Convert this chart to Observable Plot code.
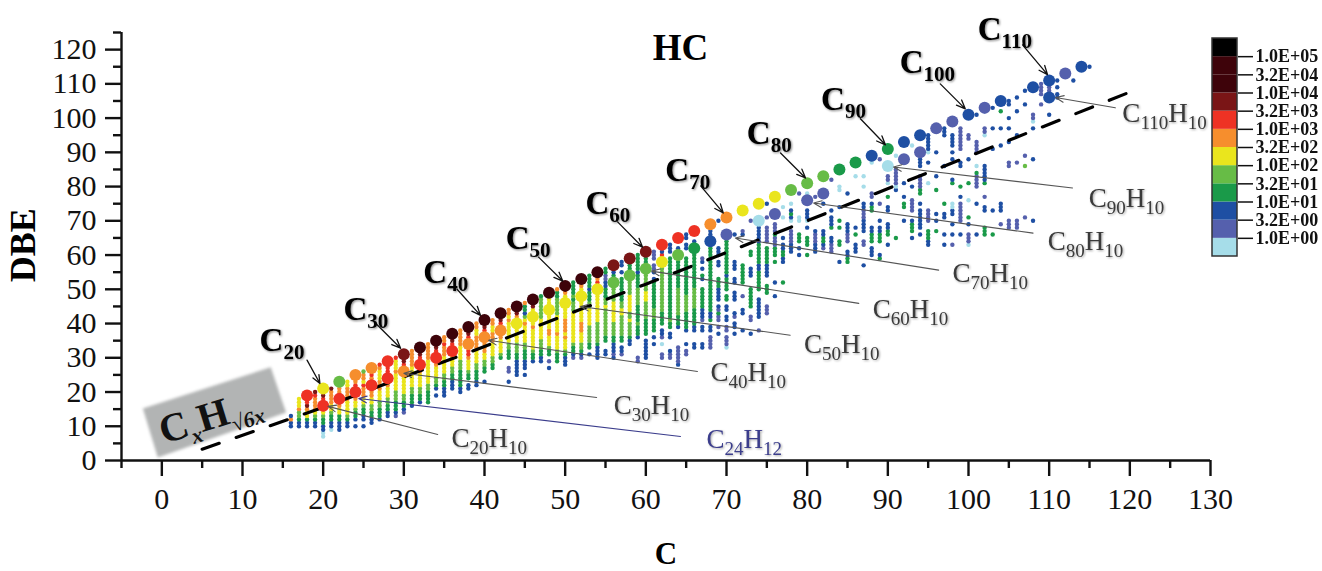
<!DOCTYPE html>
<html><head><meta charset="utf-8">
<style>html,body{margin:0;padding:0;background:#fff}#wrap{position:relative;width:1322px;height:571px;overflow:hidden}</style>
<script src="https://cdn.jsdelivr.net/npm/d3@7"></script>
<script src="https://cdn.jsdelivr.net/npm/@observablehq/plot@0.6"></script>
</head><body><div id="wrap"></div>
<script>
// abundance classes, low to high
const classKeys = ["a","p","b","g","l","y","o","r","d","m","n","k"];
const classColors = ["#a6dde9","#5560ad","#1e4fa3","#1a9a49","#67bc46","#eae51d","#f68e2d","#ee3224","#7a1516","#3e030a","#3e030a","#000000"];
const legendLabels = ["1.0E+00","3.2E+00","1.0E+01","3.2E+01","1.0E+02","3.2E+02","1.0E+03","3.2E+03","1.0E+04","3.2E+04","1.0E+05"];

// small dots: [C, lowest DBE, run-length classes going up; "." is a gap]
const columnDots = [
[16,10,"2b1o1b"],[17,10,"2b1g2l1o3y"],[18,10,"2b1g2y1o1d3r"],[19,10,"2b1g1l1y4o1r1d"],[20,7,"2a2b2g1l1y1o3r1d1r"],
[21,9,"1a2b2g1l2y4o1d"],[22,9,"3b2g2y1o3r2o1y"],[23,10,"2b1g1l4y4o2y"],[24,10,"1b1.1b2g1l2y1o4r2o"],[25,10,"1b1.2b2g1l2y3o1r1y2o1l"],
[26,11,"2b2g2l2y2o3r1o2r"],[27,12,"1b3g2l3y3o3y1o1r"],[28,13,"2b2g2l3y2o5r"],[29,13,"1p1b3g3l5y1o3y1r"],[30,14,"1p1b2g2l5y2o2r2d"],
[31,16,"1b3g2l6y5o"],[32,17,"1b2g2l4y2o3r2d"],[33,17,"4g2l7y5o"],[34,19,"1b1.1b1g2l3y2o3r2d"],[35,19,"3b2g2l5y3o1r2o"],
[36,21,"3b2g2l3y1o3r2d"],[37,20,"2b5g3l4y5o"],[38,21,"2b1.2g1l3y1o2r2o2r2d"],[39,22,"2b3g2l4y4o2y2o"],[40,23,"1b2.2g2l2y5o2r2d"],
[41,27,"2g2l4y3o2y2o"],[42,30,"1g1l4y4o1r2d"],[43,23,"1b2.2p2.3g2l6y1o1y2o"],[44,25,"5b2g3l4y1o2y1o2d"],[45,25,"1b1.3b3g2l5y1o1y1l1b2g1o"],
[46,29,"1b2g1l6y1o5y2d"],[47,29,"2b2g3l6y6l1g"],[48,27,"1b1.1p1.2g1l3y2o6y1r3y"],[49,29,"3g1l4y1o5y5l2g1o"],[50,28,"3b1g1l3y1o1y4o7y1o1r"],
[51,30,"1p1b2g1l9y3l1g1l4g"],[52,30,"1p1b1g2l3y3o10y1o"],[53,31,"1b1.2g5l5y2l3g1b4g"],[54,30,"4b1g6l10y1o1r1o1d"],[55,31,"2b2.2g8l1y2l3g2b2p2g"],
[56,30,"1b1p3b2g4l6y7l1g2b"],[57,31,"1p2b1.2g6l2y2l7g1.1b1.2b"],[58,34,"2b1g4l1y2l5y7l2g1b"],[59,29,"2p5.1b3g1l5g5l4g1b5g"],[60,30,"6b1.5g5l3y8l3g"],
[61,34,"1b1.1b1.4g3l8g1b1.1b2p1.3p"],[62,30,"2p2.1a1.1p2b1.4g13l1g1y1.1r2b"],[63,30,"2p1b3.2b1.2g1l18g1.3b"],[64,28,"1b5p5.1b3g8l8g2l1.1b"],[65,31,"2p1.1b3.1b5g5l11g2.2b1.2b"],
[66,33,"2b3.2b5g6l11g3b"],[67,33,"2b3.2b1.1p3b6g2.1b1g1.1b1.1b1p"],[68,33,"4p1.2b1.1g2b19g2b1.2b"],[69,37,"1b1.1p1.2p1g1p1b1.4b3g3.2b1.3b7.1b"],[70,33,"1a3p1.2p1.2b1.2b1.2g1.4g1b11g"],
[71,37,"1b1.2b1.1p1b3.3b2.2b2.3b7.1b"],[72,38,"1b4.2b3.1p3.6g8.1b1p"],[73,37,"1b3.2p2.6g3.3b3.2g8.1p"],[74,38,"1p3.6b2.6g2b6g5b"],[75,43,"3p3.3g2.4b5g1.5p2.1p3.1b"],
[76,48,"1b3.1b5.1g1.3g3p1g3p"],[77,52,"1g5.2b2g2b1.1b5.1a2.1a"],[78,61,"3b4p2.1a1b1g1b1.1a"],[79,60,"1b1.1b1.3g3.2a6.1p"],[80,60,"1g2.3g2.1b1.1a3b4.1a"],
[81,61,"3b3p1b9.1p"],[82,62,"1p1b2g2b7.1b"],[83,61,"3p2b2.1g3b1.1b8.1p"],[84,58,"1b4.2g3.1g1.1g3.1b4.2a"],[85,58,"2g2b2.3p3b8.1b"],
[86,61,"3b2.1g1.1b14.1a"],[87,57,"1b5.2p2.4b3p2b4.1a2.1a"],[88,60,"3b1.3g2b4.2g1b1.2p8.1a"],[89,59,"1g1b3.3g2b1.1b4.1p12.1p"],[90,63,"1b2.2g2b3.2b2.1g3.1a2p"],
[91,65,"1g13.1b1a5p3.1a"],[92,70,"1b3.2g1.1b3.1b"],[93,65,"1b1.3g1b2.4p3.1b11.1a"],[94,66,"1b1.6b1.1b2.2g4p2.3b"],[95,63,"2b3g2.4p7.1a5.1b2.1a5b"],
[96,67,"1g2.1b1.1b6.1g3.1b6.1b"],[97,63,"1b2.1b4.2b2.1g10.1b8.3b"],[98,63,"1p2.1b2.1b2.2b2a5.1g1b5.1b1.1b1.4b"],[99,66,"1b3.6p1.1b2.1g5.2b3.7p"],[100,63,"1a3p2.1b1.1g4.1a4.1g6.1b5.2p"],
[101,66,"1b8.1b4.4p1g1.1a3.4p7.1b"],[102,66,"3g4.2b2.1p3.1g5b8.1a2p4.1b"],[103,66,"1g6.1b17.1b5.1b5.1b"],[104,69,"1p3.3b16.1b4.1b4.1g1.1b"],[105,68,"3p15.2p5.1b3.1b2.1b3.2b"],
[106,68,"3p16.1p7.1b6.1b3.1b"],[107,71,"1p14.1l2.1p14.1b3.1b"],[108,70,"1b17.1b8.1b1.1a2p"],[109,104,"1p2.4p"],[110,101,"1b5.4p"],
[111,106,"2b1.1b1.1b"],[113,111,"1b"],[115,115,"1b"]
];
// big dots: [C, DBE, class]
const topSeries = [[18,19,"r"],[20,21,"y"],[22,23,"l"],[24,25,"o"],[26,27,"o"],[28,29,"r"],[30,31,"d"],[32,33,"m"],[34,35,"m"],[36,37,"m"],[38,39,"m"],[40,41,"m"],[42,43,"m"],[44,45,"m"],[46,47,"m"],[48,49,"m"],[50,51,"m"],[52,53,"m"],[54,55,"m"],[56,57,"d"],[58,59,"d"],[60,61,"d"],[62,63,"r"],[64,65,"r"],[66,67,"r"],[68,69,"o"],[70,71,"o"],[72,73,"y"],[74,75,"y"],[76,77,"y"],[78,79,"l"],[80,81,"l"],[82,83,"l"],[84,85,"g"],[86,87,"g"],[88,89,"b"],[90,91,"g"],[92,93,"b"],[94,95,"b"],[96,97,"p"],[98,99,"p"],[100,101,"b"],[102,103,"p"],[104,105,"b"],[108,109,"b"],[110,111,"b"],[112,113,"p"],[114,115,"b"]];
const lowSeries = [[20,16,"r"],[22,18,"r"],[24,20,"r"],[26,22,"r"],[28,24,"r"],[30,26,"o"],[32,28,"r"],[34,30,"r"],[36,32,"r"],[38,34,"o"],[40,36,"o"],[42,38,"o"],[44,40,"y"],[46,42,"y"],[48,44,"y"],[50,46,"y"],[52,48,"y"],[54,50,"y"],[56,52,"l"],[58,54,"l"],[60,56,"l"],[62,58,"y"],[64,60,"l"],[66,62,"g"],[68,64,"b"],[70,66,"p"],[74,70,"a"],[76,72,"p"],[80,76,"p"],[82,78,"p"],[90,86,"a"],[92,88,"p"],[94,90,"p"],[110,106,"b"]];

// dashed trend C_xH_sqrt(6x), read as points
const trendC = [5,20,40,60,80,100,120];
const trendDBE = [3.3,15.5,33.3,51.5,70,88.8,107.6];
// grey label box corners in data units
const boxC = [-2.35,13.5,15.4,-0.5];
const boxDBE = [15.2,27.2,14,0.9];

// [label, x, y, arrow x1, y1, x2, y2]
const carbonLabels = [
["C_20",14.9,35.1,18,29.3,19.6,22.5],["C_30",25.3,44.2,26.5,40.1,29.6,32.8],["C_40",35.2,55,36.6,50,39.5,42.4],
["C_50",45.4,65,46.7,59.4,49.7,52.4],["C_60",55.3,75.2,56.5,69.7,59.6,62.3],["C_70",65.2,84.6,66.8,80.2,69.6,72.3],
["C_80",75.3,95.4,76.7,89.8,79.8,82.5],["C_90",84.5,105.4,86.6,99.8,89.7,92.2],["C_100",94.9,116.2,96.5,110,99.6,102.7],["C_110",104.5,125.8,106.7,121.4,109.8,112.7]];
const formulaLabels = [
["C_110H_10",124.3,101.5,118.2,103,110.8,106],["C_90H_10",119.6,76.7,112.9,79.6,90.7,85.7],["C_80H_10",114.5,64.1,108,66.4,80.8,75.2],
["C_70H_10",102.7,54.7,96.3,55.6,71.1,65],["C_60H_10",92.8,44.2,86.4,45.9,60.7,55.3],["C_50H_10",84.3,33.9,77.9,36.6,51.9,45],
["C_40H_10",72.7,25.8,66.4,26,40.5,35.1],["C_30H_10",60.7,16.1,53.9,18.4,30,25.5],["C_20H_10",40.6,6.4,34.2,7.6,20.6,15.8]];
const blueLabel = [["C_24H_12",72.2,6.1,64.3,7,24.4,18.1]];

const xMajor = d3.range(0,131,10), xMinor = d3.range(-5,130,10);
const yMajor = d3.range(0,121,10), yMinor = d3.range(5,126,10);

const smallDots = [];
for (const [c, low, runs] of columnDots) {
  let d = low;
  for (const m of runs.matchAll(/(\d+)([a-z.])/g)) {
    for (let i = 0; i < +m[1]; i++, d++) if (m[2] !== ".") smallDots.push({c, d, k: m[2]});
  }
}
const bigDots = [...topSeries, ...lowSeries].map(([c, d, k]) => ({c, d, k}));
const trend = trendC.map((c, i) => ({c, d: trendDBE[i]}));
const box = boxC.map((c, i) => ({c, d: boxDBE[i]}));

const serif = "Liberation Serif";
const chart = Plot.plot({
  width: 1322, height: 571,
  marginLeft: 121, marginRight: 112, marginTop: 32, marginBottom: 111,
  style: {background: "#fff", fontFamily: serif, overflow: "visible"},
  x: {domain: [-5,130], label: null},
  y: {domain: [0,125], label: null},
  color: {domain: classKeys, range: classColors},
  marks: [
    Plot.line(box, {x: "c", y: "d", fill: "#b2b4b4", stroke: "none", ariaDescription: "box"}),
    Plot.dot(smallDots, {x: "c", y: "d", fill: "k", r: 2.2, ariaDescription: "small"}),
    Plot.line(trend, {x: "c", y: "d", stroke: "#000", strokeWidth: 3.2, strokeDasharray: "18,18", curve: "linear"}),
    Plot.dot(bigDots, {x: "c", y: "d", fill: "k", r: 6, ariaDescription: "big"}),
    Plot.ruleY([0], {stroke: "#111", strokeWidth: 2.4}),
    Plot.ruleX([-5], {stroke: "#111", strokeWidth: 2.4}),
    Plot.axisX({anchor: "bottom", ticks: xMajor, tickSize: 16, tickPadding: 11, fontSize: 30, stroke: "#111", strokeWidth: 2.4, fill: "#111", label: null, tickFormat: "d"}),
    Plot.axisX({anchor: "bottom", ticks: xMinor, tickSize: 8, stroke: "#111", strokeWidth: 2.4, text: null, label: null}),
    Plot.axisY({anchor: "left", ticks: yMajor, tickSize: 16, tickPadding: 9, fontSize: 30, stroke: "#111", strokeWidth: 2.4, fill: "#111", label: null, tickFormat: "d"}),
    Plot.axisY({anchor: "left", ticks: yMinor, tickSize: 8, stroke: "#111", strokeWidth: 2.4, text: null, label: null}),
    Plot.arrow(carbonLabels, {x1: d=>d[3], y1: d=>d[4], x2: d=>d[5], y2: d=>d[6], stroke: "#111", strokeWidth: 1.3, bend: 0, headLength: 11, headAngle: 45}),
    Plot.arrow(formulaLabels, {x1: d=>d[3], y1: d=>d[4], x2: d=>d[5], y2: d=>d[6], stroke: "#555", strokeWidth: 1.1, bend: 0, headLength: 12, headAngle: 45}),
    Plot.arrow(blueLabel, {x1: d=>d[3], y1: d=>d[4], x2: d=>d[5], y2: d=>d[6], stroke: "#3b3d8c", strokeWidth: 1.1, bend: 0, headLength: 12, headAngle: 45}),
    Plot.text(carbonLabels, {x: d=>d[1], y: d=>d[2], text: d=>d[0], fontSize: 33, fontWeight: "bold", fill: "#000", ariaDescription: "carbon labels"}),
    Plot.text(formulaLabels, {x: d=>d[1], y: d=>d[2], text: d=>d[0], fontSize: 27, fill: "#3a3a3a", ariaDescription: "formula labels"}),
    Plot.text(blueLabel, {x: d=>d[1], y: d=>d[2], text: d=>d[0], fontSize: 27, fill: "#3b3d8c", ariaDescription: "blue label"}),
    Plot.text(["C_xH_√6x"], {x: [6.0], y: [12.9], text: d=>d, rotate: -17, fontSize: 40, fontWeight: "bold", fill: "#111", ariaDescription: "box label"}),
    Plot.text(["HC"], {x: [64.3], y: [120.4], text: d=>d, fontSize: 37, fontWeight: "bold", fill: "#000"}),
    Plot.text(["DBE"], {x: [-17.2], y: [62.9], text: d=>d, rotate: -90, fontSize: 36, fontWeight: "bold", fill: "#000"}),
    Plot.text(["C"], {x: [62.5], y: [-27.2], text: d=>d, fontSize: 31, fontWeight: "bold", fill: "#000"})
  ]
});

function subscripts(label, subSize, subDy, italic) {
  chart.querySelectorAll(`g[aria-description="${label}"] text`).forEach(t => {
    const parts = t.textContent.split(/_([^_A-Z]+)/);
    t.textContent = "";
    parts.forEach((p, i) => {
      if (!p) return;
      const s = document.createElementNS("http://www.w3.org/2000/svg", "tspan");
      s.textContent = p;
      if (i % 2) {
        s.setAttribute("font-size", subSize);
        s.setAttribute("dy", subDy);
        if (italic) s.setAttribute("font-style", "italic");
      } else if (i > 0) s.setAttribute("dy", -subDy);
      t.appendChild(s);
    });
  });
}
subscripts("carbon labels", 21, 8);
subscripts("formula labels", 19, 7);
subscripts("blue label", 19, 7);
subscripts("box label", 22, 9, true);
const soft = (label, f) => chart.querySelectorAll(`g[aria-description="${label}"]`).forEach(g => g.style.filter = f);
soft("carbon labels", "drop-shadow(1px 1px 1px rgba(0,0,0,.5))");
soft("formula labels", "drop-shadow(1px 1px 1px rgba(0,0,0,.35))");
soft("blue label", "drop-shadow(1px 1px 1px rgba(0,0,0,.35))");
soft("box", "blur(1.5px)");
soft("small", "blur(.3px)");
soft("big", "blur(.3px)");
document.getElementById("wrap").appendChild(chart);

const cells = classKeys.map((k, i) => ({k, lo: i, hi: i + 1}));
const legend = Plot.plot({
  width: 132, height: 250,
  marginLeft: 22, marginRight: 85, marginTop: 18, marginBottom: 14,
  style: {position: "absolute", left: "1190px", top: "20px", background: "transparent", fontFamily: serif, overflow: "visible"},
  x: {axis: null, domain: [0,1]},
  y: {domain: [0,12], label: null},
  color: {domain: classKeys, range: classColors},
  marks: [
    Plot.rect(cells, {x1: 0, x2: 1, y1: "lo", y2: "hi", fill: "k"}),
    Plot.rect([0], {x1: 0, x2: 1, y1: 0, y2: 12, stroke: "#333", strokeWidth: 1.5, fill: "none"}),
    Plot.axisY({anchor: "right", ticks: d3.range(1,12), tickSize: 15, tickPadding: 3, fontSize: 18, fontWeight: "bold", stroke: "#111", strokeWidth: 1.5, fill: "#111", label: null, tickFormat: d => legendLabels[d - 1]})
  ]
});
document.getElementById("wrap").appendChild(legend);
</script></body></html>
